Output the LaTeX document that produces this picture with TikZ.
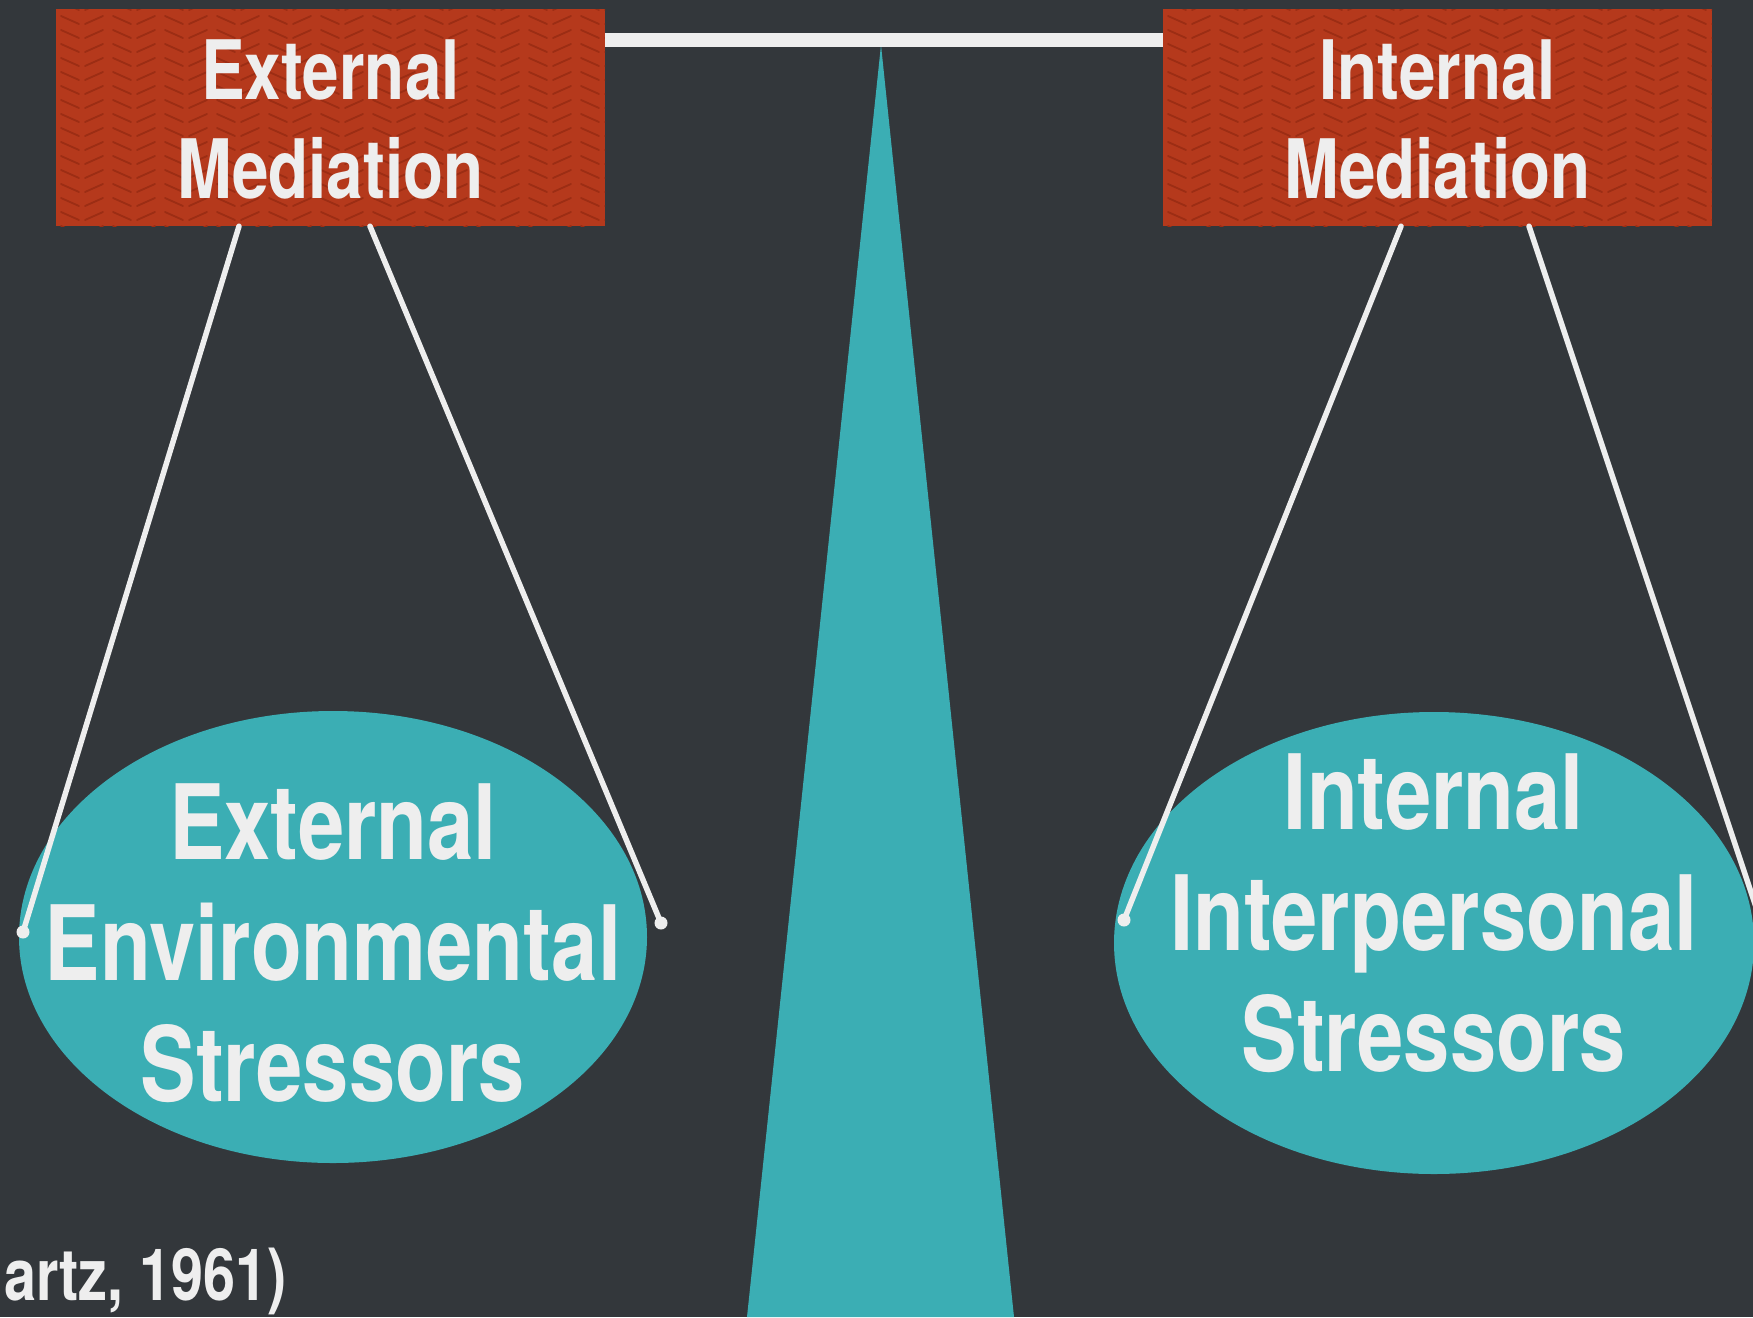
\documentclass[tikz,border=0pt]{standalone}
\usepackage{fontspec}
\setmainfont{TeX Gyre Heros}
\newfontfamily\condf[FakeStretch=0.8]{TeX Gyre Heros}
\usetikzlibrary{shapes.geometric,calc}
\definecolor{bgc}{HTML}{33373B}
\definecolor{redc}{HTML}{B5391C}
\definecolor{reddark}{HTML}{9C2D14}
\definecolor{tealc}{HTML}{3BAEB4}
\definecolor{whitec}{HTML}{EEEEEE}
\tikzset{
  medbox/.style={fill=redc, draw=none, minimum width=549pt, minimum height=217pt, inner sep=0pt},
  pan/.style={ellipse, fill=tealc, draw=none, inner sep=0pt},
  boxtext/.style={text=whitec, align=center, inner sep=0pt, font=\condf\bfseries\fontsize{82}{99}\selectfont},
  pantext/.style={text=whitec, align=center, inner sep=0pt, font=\condf\bfseries\fontsize{104}{121}\selectfont},
  rope/.style={draw=whitec, line width=5.5pt, line cap=round},
  beam/.style={draw=whitec, line width=14pt},
  ropeend/.style={circle, fill=whitec, inner sep=0pt, minimum size=13pt},
  weave/.style={draw=reddark, line width=1.8pt, line cap=round},
}
\begin{document}
\begin{tikzpicture}[x=1pt,y=-1pt]
\fill[bgc] (0,0) rectangle (1753,1317);
\useasboundingbox (0,0) rectangle (1753,1317);
% stand
\fill[tealc] (881,45) -- (1014,1317) -- (747,1317) -- cycle;
% boxes
\node[medbox] (boxL) at (330.5,117.5) {};
\node[medbox] (boxR) at (1437.5,117.5) {};
% herringbone texture
\foreach \bx in {56,1163}{
  \begin{scope}
    \clip (\bx,9) rectangle ++(549,217);
    \foreach \cx in {0,52,...,572}{
      \foreach \ry in {0,14,...,230}{
        \draw[weave] (\bx+\cx+5,\ry+2) -- (\bx+\cx+23,\ry+10);
        \draw[weave] (\bx+\cx+29,\ry+10) -- (\bx+\cx+47,\ry+2);
      }
    }
  \end{scope}
}
% beam
\draw[beam] ($(boxL.north east)+(0,31)$) -- ($(boxR.north west)+(0,31)$);
% box texts
\node[boxtext] (tL) at ($(boxL.center)+(0,2)$) {External\\Mediation};
\node[boxtext] (tR) at ($(boxR.center)+(0,2)$) {Internal\\Mediation};
% pans
\node[pan, minimum width=628pt, minimum height=452pt] (panL) at (333,937) {};
\node[pan, minimum width=640pt, minimum height=462pt] (panR) at (1434,943) {};
\node[pantext] (ptL) at (333,943) {External\\Environmental\\Stressors};
\node[pantext] (ptR) at (1434,913) {Internal\\Interpersonal\\Stressors};
% ropes
\coordinate (eL1) at (23,932);
\coordinate (eL2) at (661,923);
\coordinate (eR1) at (1124,920);
\coordinate (eR2) at (1762,925);
\draw[rope] ($(boxL.south)+(-91.5,0)$) -- (eL1);
\draw[rope] ($(boxL.south)+(39.5,0)$) -- (eL2);
\draw[rope] ($(boxR.south)+(-36.5,0)$) -- (eR1);
\draw[rope] ($(boxR.south)+(91.5,0)$) -- (eR2);
\node[ropeend] (dL1) at (eL1) {};
\node[ropeend] (dL2) at (eL2) {};
\node[ropeend] (dR1) at (eR1) {};
% citation
\node[anchor=base west, inner sep=0pt, text=whitec, font=\condf\bfseries\fontsize{72}{80}\selectfont] (cite) at (4,1300) {artz, 1961)};
\end{tikzpicture}
\end{document}
